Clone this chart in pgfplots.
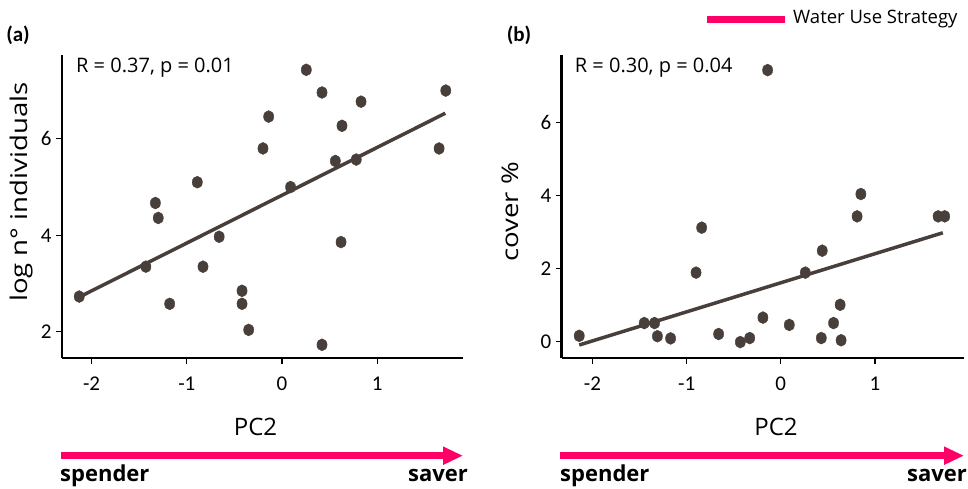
\documentclass[border=0pt]{standalone}
\usepackage{fontspec}
\setmainfont{Open Sans}
\newfontfamily\carlito{Carlito}
\usepackage{graphicx}
\usepackage{pgfplots}
\pgfplotsset{compat=1.18}
\usetikzlibrary{arrows.meta}
\definecolor{pt}{RGB}{72,62,58}
\definecolor{pinkc}{RGB}{255,0,102}

\pgfplotstableread{
x y
-2.13 2.73
-1.43 3.35
-1.33 4.67
-1.30 4.36
-1.18 2.58
-0.89 5.10
-0.83 3.35
-0.66 3.97
-0.42 2.85
-0.42 2.58
-0.35 2.04
-0.20 5.80
-0.14 6.46
0.09 5.00
0.255 7.43
0.42 6.96
0.42 1.73
0.56 5.54
0.62 3.86
0.63 6.27
0.78 5.57
0.83 6.77
1.65 5.80
1.72 7.00
}\dataA

\pgfplotstableread{
x y
-2.14 0.16
-1.45 0.51
-1.34 0.51
-1.31 0.15
-1.17 0.09
-0.90 1.89
-0.84 3.12
-0.66 0.21
-0.43 -0.01
-0.33 0.10
-0.19 0.66
-0.14 7.43
0.09 0.46
0.26 1.89
0.43 0.10
0.44 2.49
0.56 0.51
0.63 1.01
0.64 0.04
0.81 3.43
0.85 4.04
1.67 3.43
1.74 3.43
}\dataB

\pgfplotsset{myax/.style={
  scale only axis,
  axis x line*=bottom, axis y line*=left,
  axis line style={black, line width=2.5pt},
  tick style={black, line width=1.2pt},
  tick align=outside, major tick length=6pt,
  ticklabel style={font=\fontsize{21}{21}\selectfont\carlito},
  xticklabel style={yshift=-9pt},
  yticklabel style={xshift=-1pt},
  /pgf/number format/assume math mode=true,
  xtick={-2,-1,0,1},
  clip=false,
}}

\begin{document}
\begin{tikzpicture}
\useasboundingbox (0,0) rectangle (968pt,-488pt);

% panel a
\begin{axis}[myax,
  at={(62pt,-358pt)}, anchor=south west,
  width=401pt, height=303pt,
  xmin=-2.311, xmax=1.901, ymin=1.457, ymax=7.737,
  ytick={2,4,6}]
\addplot[pt, line width=3.5pt, no marks] coordinates {(-2.13,2.72) (1.715,6.53)};
\addplot[only marks, mark=*, mark size=6pt, color=pt, mark options={xscale=0.85, fill=pt, draw=none}] table[x=x,y=y] {\dataA};
\end{axis}

% panel b
\begin{axis}[myax,
  at={(561.7pt,-358pt)}, anchor=south west,
  width=402.3pt, height=303pt,
  xmin=-2.326, xmax=1.945, ymin=-0.446, ymax=7.844,
  ytick={0,2,4,6}]
\addplot[pt, line width=3.5pt, no marks] coordinates {(-2.14,-0.09) (1.72,2.98)};
\addplot[only marks, mark=*, mark size=6pt, color=pt, mark options={xscale=0.85, fill=pt, draw=none}] table[x=x,y=y] {\dataB};
\end{axis}

% panel letters
\node[font=\fontsize{21}{21}\selectfont\carlito\bfseries] at (18pt,-35pt) {(a)};
\node[font=\fontsize{21}{21}\selectfont\carlito\bfseries] at (519pt,-35pt) {(b)};

% stats
\node[anchor=base west, inner sep=0pt, font=\fontsize{20}{20}\selectfont] at (76pt,-72pt) {R = 0.37, p = 0.01};
\node[anchor=base west, inner sep=0pt, font=\fontsize{20}{20}\selectfont] at (574.7pt,-72pt) {R = 0.30, p = 0.04};

% axis labels
\node[font=\fontsize{24}{24}\selectfont] at (255.5pt,-427pt) {PC2};
\node[font=\fontsize{24}{24}\selectfont] at (776pt,-427pt) {PC2};
\node[rotate=90, font=\fontsize{23}{23}\selectfont] at (22pt,-192pt) {\scalebox{1.2}[1]{log n° individuals}};
\node[rotate=90, font=\fontsize{23}{23}\selectfont] at (510.5pt,-211.7pt) {\scalebox{1.2}[1]{cover \%}};

% arrows
\draw[pinkc, line width=7pt, -{Triangle[length=20pt,width=17pt]}] (61pt,-455.7pt) -- (463pt,-455.7pt);
\draw[pinkc, line width=7pt, -{Triangle[length=20pt,width=17pt]}] (560pt,-455.7pt) -- (964pt,-455.7pt);
\node[anchor=base west, inner sep=0pt, font=\fontsize{22}{22}\selectfont\bfseries] at (60pt,-481.5pt) {spender};
\node[anchor=base east, inner sep=0pt, font=\fontsize{22}{22}\selectfont\bfseries] at (468pt,-481.5pt) {saver};
\node[anchor=base west, inner sep=0pt, font=\fontsize{22}{22}\selectfont\bfseries] at (560pt,-481.5pt) {spender};
\node[anchor=base east, inner sep=0pt, font=\fontsize{22}{22}\selectfont\bfseries] at (967pt,-481.5pt) {saver};

% legend
\draw[pinkc, line width=7pt] (707pt,-19pt) -- (785pt,-19pt);
\node[anchor=west, inner sep=0pt, font=\fontsize{18.5}{18.5}\selectfont] at (793pt,-19pt) {Water Use Strategy};
\end{tikzpicture}
\end{document}
